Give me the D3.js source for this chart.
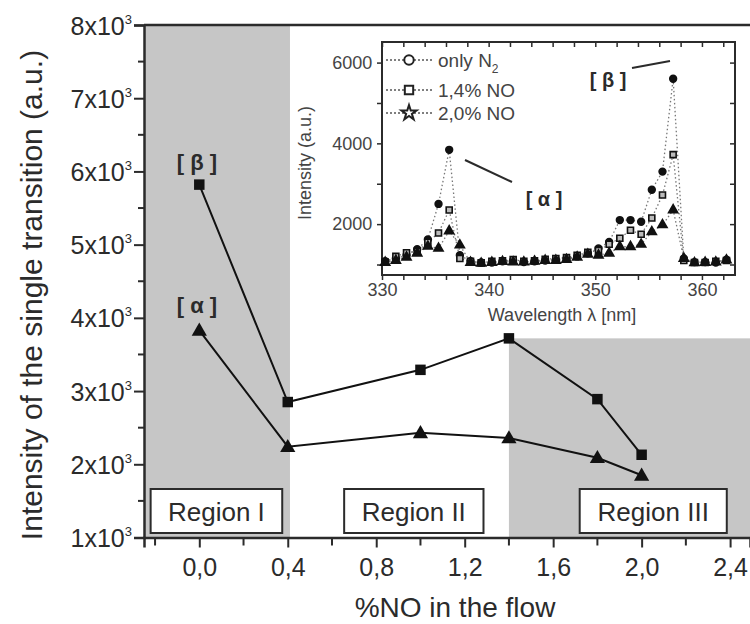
<!DOCTYPE html>
<html lang="en">
<head>
<meta charset="utf-8">
<title>Intensity vs %NO</title>
<script src="https://cdnjs.cloudflare.com/ajax/libs/d3/7.8.5/d3.min.js"></script>
<style>
  body { margin: 0; background: #fff; }
  svg { display: block; font-family: "Liberation Sans", Arial, sans-serif; }
</style>
</head>
<body>
<div id="chart"></div>
<script>
// main chart data
var noFlow = [0, 0.4, 1.0, 1.4, 1.8, 2.0];
var betaInt = [5820, 2850, 3290, 3720, 2890, 2130];
var alphaInt = [3830, 2240, 2430, 2360, 2090, 1850];
var yTicks = [1, 2, 3, 4, 5, 6, 7, 8];          // x10^3
var xTicks = [0, 0.4, 0.8, 1.2, 1.6, 2.0, 2.4];
var regionNames = ["Region I", "Region II", "Region III"];
var regionBoxes = [[-0.22, 0.375], [0.655, 1.285], [1.72, 2.385]];

// inset spectra
var wavelength = [330.3, 331.3, 332.3, 333.3, 334.3, 335.3, 336.3, 337.3, 338.3, 339.3, 340.3,
  341.3, 342.3, 343.3, 344.3, 345.3, 346.3, 347.3, 348.3, 349.3, 350.3, 351.3, 352.3,
  353.3, 354.3, 355.3, 356.3, 357.3, 358.3, 359.3, 360.3, 361.3, 362.3];
var onlyN2 = [1080, 1150, 1230, 1380, 1620, 2500, 3840, 1230, 1080, 1050, 1050,
  1080, 1100, 1060, 1080, 1100, 1120, 1150, 1200, 1280, 1400, 1560, 2100,
  2100, 2060, 2850, 3300, 5600, 1150, 1060, 1060, 1050, 1120];
var no14 = [1060, 1200, 1290, 1330, 1550, 1780, 2350, 1150, 1080, 1040, 1080,
  1090, 1120, 1080, 1090, 1130, 1150, 1170, 1230, 1300, 1350, 1500, 1650,
  1850, 1750, 2150, 2720, 3720, 1100, 1050, 1050, 1080, 1100];
var no20 = [1050, 1100, 1180, 1280, 1450, 1400, 1830, 1480, 1050, 1030, 1050,
  1070, 1060, 1060, 1080, 1100, 1100, 1120, 1180, 1250, 1230, 1280, 1440,
  1440, 1500, 1810, 1980, 2350, 1150, 1040, 1050, 1060, 1110];
var insetXTicks = [330, 340, 350, 360];
var insetYTicks = [2000, 4000, 6000];

var width = 750, height = 624;
var ink = "#2b2b2b";
var gray = "#c6c6c6";

var svg = d3.select("#chart").append("svg")
  .attr("width", width)
  .attr("height", height);
svg.append("rect").attr("width", width).attr("height", height).attr("fill", "#fff");

var x = d3.scaleLinear().domain([-0.25, 2.49]).range([144, 750]);
var y = d3.scaleLinear().domain([1000, 8000]).range([537.5, 25]);

// shaded regions
svg.append("rect")
  .attr("x", x(-0.25)).attr("y", y(8000))
  .attr("width", x(0.41) - x(-0.25)).attr("height", y(1000) - y(8000))
  .attr("fill", gray);
svg.append("rect")
  .attr("x", x(1.4)).attr("y", y(3720))
  .attr("width", x(2.49) - x(1.4)).attr("height", y(1000) - y(3720))
  .attr("fill", gray);

// axes
var yAxis = d3.axisLeft(y).tickValues(yTicks.map(d => d * 1000)).tickSize(10).tickFormat("");
var gy = svg.append("g").attr("transform", "translate(" + x(-0.25) + ",0)").call(yAxis);
gy.selectAll(".tick").each(function(d) {
  var t = d3.select(this).append("text")
    .attr("x", -12).attr("y", 9)
    .attr("text-anchor", "end")
    .attr("fill", ink)
    .style("font-size", "25px");
  t.append("tspan").text((d / 1000) + "x10");
  t.append("tspan").text("3").attr("dy", -11).style("font-size", "13px");
});
// minor y ticks
svg.append("g").selectAll("line")
  .data(d3.range(1500, 8000, 1000))
  .enter().append("line")
  .attr("x1", x(-0.25) - 6).attr("x2", x(-0.25))
  .attr("y1", d => y(d)).attr("y2", d => y(d))
  .attr("stroke", ink).attr("stroke-width", 2);

var xAxis = d3.axisBottom(x).tickValues(xTicks).tickSize(10)
  .tickFormat(d => d3.format(".1f")(d).replace(".", ","));
var gx = svg.append("g").attr("transform", "translate(0," + y(1000) + ")").call(xAxis);
gx.selectAll("text").attr("fill", ink).style("font-size", "25px").attr("y", 21).attr("dy", "0.71em");
svg.append("g").selectAll("line")
  .data(d3.range(-0.2, 2.41, 0.4))
  .enter().append("line")
  .attr("x1", d => x(d)).attr("x2", d => x(d))
  .attr("y1", y(1000)).attr("y2", y(1000) + 8)
  .attr("stroke", ink).attr("stroke-width", 2);

[gx, gy].forEach(function(g) {
  g.select(".domain").attr("stroke", ink).attr("stroke-width", 2.5);
  g.selectAll(".tick line").attr("stroke", ink).attr("stroke-width", 2);
});
// top frame
svg.append("line")
  .attr("x1", x(-0.25)).attr("x2", x(2.49))
  .attr("y1", y(8000)).attr("y2", y(8000))
  .attr("stroke", ink).attr("stroke-width", 2.5);

// region label boxes
regionBoxes.forEach(function(b, i) {
  svg.append("rect")
    .attr("x", x(b[0])).attr("y", 489)
    .attr("width", x(b[1]) - x(b[0])).attr("height", 44)
    .attr("fill", "#fff").attr("stroke", ink).attr("stroke-width", 2);
  svg.append("text")
    .attr("x", (x(b[0]) + x(b[1])) / 2).attr("y", 521)
    .attr("text-anchor", "middle").attr("fill", ink)
    .style("font-size", "26px")
    .text(regionNames[i]);
});

// series
var line = d3.line().x((d, i) => x(noFlow[i])).y(d => y(d));
[betaInt, alphaInt].forEach(function(s) {
  svg.append("path").datum(s).attr("d", line)
    .attr("fill", "none").attr("stroke", "#111").attr("stroke-width", 2);
});
svg.append("g").selectAll("path")
  .data(betaInt).enter().append("path")
  .attr("transform", (d, i) => "translate(" + x(noFlow[i]) + "," + y(d) + ")")
  .attr("d", d3.symbol(d3.symbolSquare, 110))
  .attr("fill", "#111");
svg.append("g").selectAll("path")
  .data(alphaInt).enter().append("path")
  .attr("transform", (d, i) => "translate(" + x(noFlow[i]) + "," + (y(d) + 1) + ")")
  .attr("d", d3.symbol(d3.symbolTriangle, 100))
  .attr("fill", "#111");

svg.append("text").attr("x", 197).attr("y", 170).attr("text-anchor", "middle")
  .attr("fill", ink).style("font-size", "22px").style("font-weight", "bold")
  .attr("xml:space", "preserve").text("[ β ]");
svg.append("text").attr("x", 197).attr("y", 313).attr("text-anchor", "middle")
  .attr("fill", ink).style("font-size", "22px").style("font-weight", "bold")
  .attr("xml:space", "preserve").text("[ α ]");

// axis titles
svg.append("text")
  .attr("transform", "translate(42,295) rotate(-90)")
  .attr("text-anchor", "middle").attr("fill", ink)
  .style("font-size", "30px")
  .text("Intensity of the single transition (a.u.)");
svg.append("text")
  .attr("x", 455).attr("y", 617)
  .attr("text-anchor", "middle").attr("fill", ink)
  .style("font-size", "28px")
  .text("%NO in the flow");

// ---- inset ----
var xi = d3.scaleLinear().domain([330, 363.1]).range([382, 735]);
var yi = d3.scaleLinear().domain([740, 6510]).range([275, 42]);
var inset = svg.append("g");

inset.append("rect")
  .attr("x", xi(330)).attr("y", yi(6510))
  .attr("width", xi(363.1) - xi(330)).attr("height", yi(740) - yi(6510))
  .attr("fill", "#fff").attr("stroke", ink).attr("stroke-width", 2);

var ixAxis = d3.axisBottom(xi).tickValues(d3.range(330, 363.1, 2)).tickSize(5)
  .tickFormat(d => insetXTicks.includes(d) ? d : "");
var gix = inset.append("g").attr("transform", "translate(0," + yi(740) + ")").call(ixAxis);
gix.selectAll("text").attr("fill", "#444").style("font-size", "18px").attr("y", 8).attr("dy", "0.71em");
var iyAxis = d3.axisLeft(yi).tickValues(d3.range(1000, 6510, 1000)).tickSize(5)
  .tickFormat(d => insetYTicks.includes(d) ? d : "");
var giy = inset.append("g").attr("transform", "translate(" + xi(330) + ",0)").call(iyAxis);
giy.selectAll("text").attr("fill", "#444").style("font-size", "18px").attr("dx", "-0.1em");
// mirrored ticks on top and right
inset.append("g").attr("transform", "translate(0," + yi(6510) + ")")
  .call(d3.axisBottom(xi).tickValues(d3.range(330, 363.1, 2)).tickSize(5).tickFormat(""));
inset.append("g").attr("transform", "translate(" + xi(363.1) + ",0)")
  .call(d3.axisLeft(yi).tickValues(d3.range(1000, 6510, 1000)).tickSize(5).tickFormat(""));
inset.selectAll(".domain").remove();
inset.selectAll(".tick line").attr("stroke", ink).attr("stroke-width", 1.5);

inset.append("text")
  .attr("x", 562).attr("y", 321).attr("text-anchor", "middle")
  .attr("fill", "#444").style("font-size", "18px")
  .text("Wavelength λ [nm]");
inset.append("text")
  .attr("transform", "translate(311,163) rotate(-90)")
  .attr("text-anchor", "middle").attr("fill", "#444").style("font-size", "18px")
  .text("Intensity (a.u.)");

var series = [
  { name: "only N", sub: "2", values: onlyN2, sym: d3.symbolCircle, size: 36, fill: "#111" },
  { name: "1,4% NO", values: no14, sym: d3.symbolSquare, size: 36, fill: "#bbb" },
  { name: "2,0% NO", values: no20, sym: d3.symbolTriangle, size: 36, fill: "#111" }
];
var iline = d3.line().x((d, i) => xi(wavelength[i])).y(d => yi(d));
series.forEach(function(s) {
  inset.append("path").datum(s.values).attr("d", iline)
    .attr("fill", "none").attr("stroke", "#777").attr("stroke-width", 1.3)
    .attr("stroke-dasharray", "1.5,2.5");
});
series.forEach(function(s) {
  inset.append("g").selectAll("path")
    .data(s.values).enter().append("path")
    .attr("transform", (d, i) => "translate(" + xi(wavelength[i]) + "," + yi(d) + ")")
    .attr("d", d3.symbol(s.sym, s.size))
    .attr("fill", s.fill).attr("stroke", "#111").attr("stroke-width", 1.6);
});

// legend
var legY = [60, 90, 113];
var legSyms = [d3.symbolCircle, d3.symbolSquare, d3.symbolStar];
series.forEach(function(s, i) {
  var g = inset.append("g").attr("transform", "translate(0," + legY[i] + ")");
  g.append("line").attr("x1", 386).attr("x2", 434).attr("y1", 0).attr("y2", 0)
    .attr("stroke", "#555").attr("stroke-width", 1.5).attr("stroke-dasharray", "2,2");
  g.append("path").attr("transform", "translate(409,0)")
    .attr("d", d3.symbol(legSyms[i], 70))
    .attr("fill", "#fff").attr("stroke", "#222").attr("stroke-width", 2);
  var t = g.append("text").attr("x", 438).attr("y", 7)
    .attr("fill", "#444").style("font-size", "19px");
  t.append("tspan").text(s.name);
  if (s.sub) t.append("tspan").text(s.sub).attr("dy", 6).style("font-size", "12px");
});

// peak annotations
inset.append("text").attr("x", 608).attr("y", 87).attr("text-anchor", "middle")
  .attr("fill", ink).style("font-size", "20px").style("font-weight", "bold")
  .attr("xml:space", "preserve").text("[ β ]");
inset.append("line").attr("x1", 632).attr("y1", 68).attr("x2", 670).attr("y2", 61)
  .attr("stroke", ink).attr("stroke-width", 2);
inset.append("text").attr("x", 544).attr("y", 206).attr("text-anchor", "middle")
  .attr("fill", ink).style("font-size", "20px").style("font-weight", "bold")
  .attr("xml:space", "preserve").text("[ α ]");
inset.append("line").attr("x1", 465).attr("y1", 160).attr("x2", 512).attr("y2", 182)
  .attr("stroke", ink).attr("stroke-width", 2);
</script>
</body>
</html>
